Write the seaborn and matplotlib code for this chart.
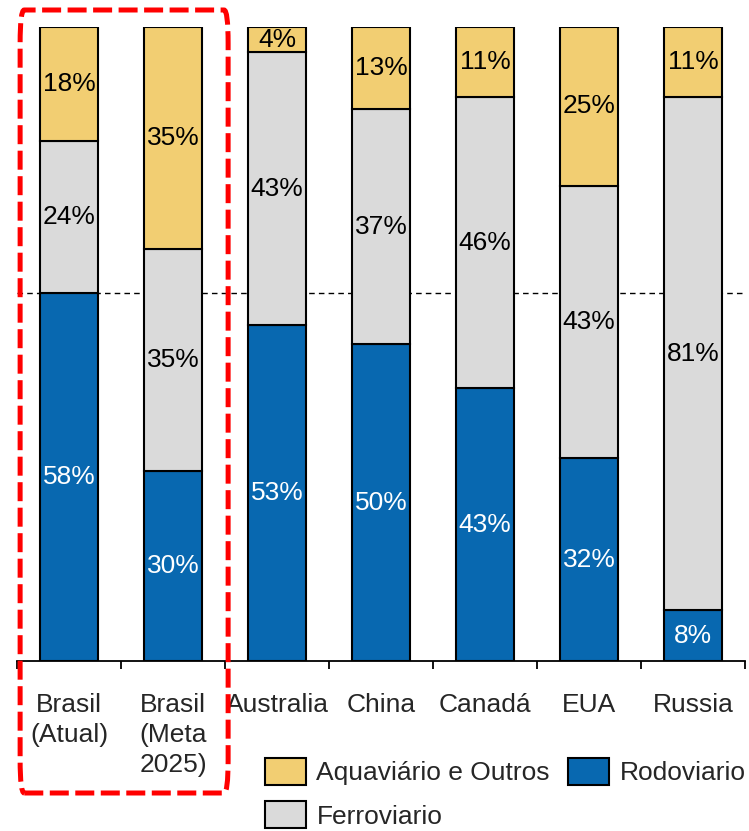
import pandas as pd
import matplotlib
matplotlib.use("Agg")
import matplotlib.pyplot as plt
import matplotlib.transforms as mtransforms
from matplotlib.patches import FancyBboxPatch, Patch
import seaborn as sns

# data (percent share by transport mode)
paises = ["Brasil\n(Atual)", "Brasil\n(Meta\n2025)", "Australia", "China", "Canadá", "EUA", "Russia"]
rodoviario = [58, 30, 53, 50, 43, 32, 8]
ferroviario = [24, 35, 43, 37, 46, 43, 81]
aquaviario = [18, 35, 4, 13, 11, 25, 11]
linha_ref = 58

cores = {"Rodoviario": "#0868b0", "Ferroviario": "#dadada", "Aquaviário e Outros": "#f2ce72"}

df = pd.DataFrame({"pais": paises, "Rodoviario": rodoviario,
                   "Ferroviario": ferroviario, "Aquaviário e Outros": aquaviario})

sns.set_style("white")
plt.rcParams["font.family"] = ["Liberation Sans", "DejaVu Sans"]
fs = 19

fig = plt.figure(figsize=(7.49, 8.31), dpi=100)
ax = fig.add_axes([17 / 749, 170 / 831, 728 / 749, 634 / 831])

# dashed reference line behind the bars
ax.axhline(linha_ref, color="black", lw=1, ls=(0, (4, 3)), zorder=0)

base = [0] * len(paises)
for modo in ["Rodoviario", "Ferroviario", "Aquaviário e Outros"]:
    sns.barplot(data=df, x="pais", y=modo, bottom=base, color=cores[modo],
                saturation=1, width=0.56, edgecolor="black", linewidth=1.5,
                ax=ax, zorder=2)
    cont = ax.containers[-1]
    cor_txt = "white" if modo == "Rodoviario" else "black"
    ax.bar_label(cont, labels=[f"{v}%" for v in df[modo]], label_type="center",
                 color=cor_txt, fontsize=fs)
    base = [b + v for b, v in zip(base, df[modo])]

ax.set_xlim(-0.5, len(paises) - 0.5)
ax.set_ylim(0, 100)
ax.set_xlabel("")
ax.set_ylabel("")
ax.set_yticks([])
for s in ["left", "right", "top"]:
    ax.spines[s].set_visible(False)
ax.spines["bottom"].set_color("black")
ax.spines["bottom"].set_linewidth(1.3)

ax.set_xticks(range(len(paises)))
ax.set_xticklabels(paises, fontsize=fs, va="top", linespacing=1.32)
ax.tick_params(axis="x", which="major", length=0, pad=23)
ax.set_xticks([i - 0.5 for i in range(len(paises) + 1)], minor=True)
ax.tick_params(axis="x", which="minor", length=6, width=1.3, color="black", direction="out", bottom=True)

# red dashed box around the two Brazil bars
trans = mtransforms.blended_transform_factory(ax.transData, fig.transFigure)
caixa = FancyBboxPatch((-0.47, 38 / 831), 2.0, 783 / 831,
                       boxstyle="round,pad=0,rounding_size=0.04",
                       transform=trans, fill=False, edgecolor="#ff0000",
                       linewidth=3.6, linestyle=(0, (3.8, 1.3)), clip_on=False, zorder=5)
ax.add_patch(caixa)

handles = [Patch(facecolor=cores["Aquaviário e Outros"], edgecolor="black", lw=1.5, label="Aquaviário e Outros"),
           Patch(facecolor=cores["Ferroviario"], edgecolor="black", lw=1.5, label="Ferroviario"),
           Patch(facecolor=cores["Rodoviario"], edgecolor="black", lw=1.5, label="Rodoviario")]
fig.legend(handles=handles, loc="upper left", bbox_to_anchor=(265 / 749, 1 - 758 / 831),
           ncol=2, frameon=False, fontsize=fs, handlelength=1.55, handleheight=1.2,
           handletextpad=0.4, columnspacing=0.7, labelspacing=0.6,
           borderpad=0, borderaxespad=0)

fig.savefig("out.png", dpi=100)
